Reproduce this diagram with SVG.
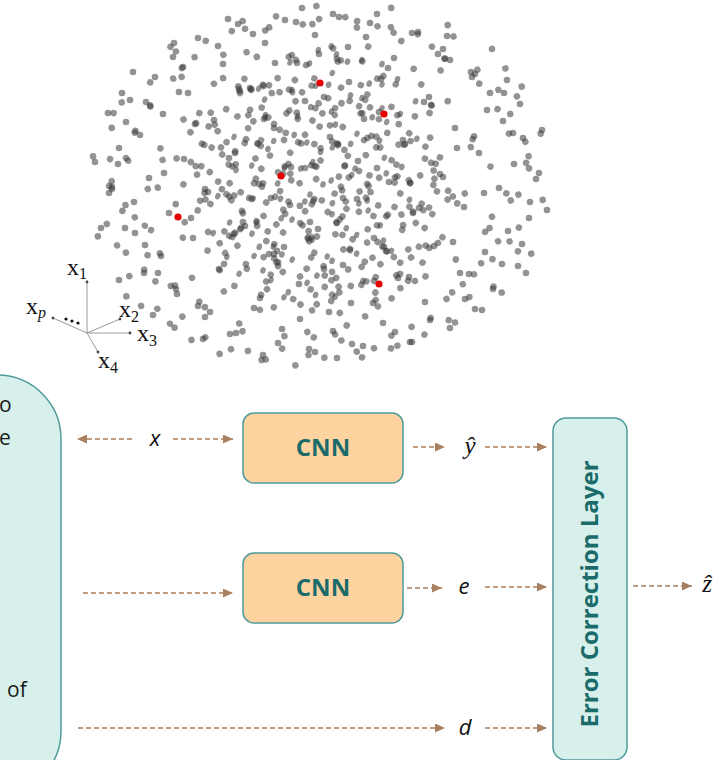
<svg xmlns="http://www.w3.org/2000/svg" xmlns:xlink="http://www.w3.org/1999/xlink" width="727" height="760" viewBox="0 0 727 760">
<style>
.red{fill:#e60000}
.ax{stroke:#9a9a9a;stroke-width:1;fill:none}
.axl{font-family:"Liberation Serif","Times New Roman",serif;font-size:24px;fill:#111}
.sub{font-size:16px}
.panel{fill:#d8f0eb;stroke:#4f9a9a;stroke-width:1.5}
.cnn{fill:#fdd4a0;stroke:#4f9a9a;stroke-width:1.5}
.lbl{font-family:"Open Sans","Liberation Sans",sans-serif;font-weight:bold;fill:#1b6b6b;text-anchor:middle}
.pt{font-family:"Open Sans","Liberation Sans",sans-serif;font-size:21px;fill:#1a1a1a}
.var{font-family:"Open Sans","Liberation Sans",sans-serif;font-style:italic;font-size:22px;fill:#111;text-anchor:middle}
.hat{font-family:"Liberation Serif","DejaVu Serif",serif;font-style:italic;font-size:25px;fill:#111;text-anchor:middle}
.arr{stroke:#a9805f;stroke-width:1.6;stroke-dasharray:5 3;fill:none;marker-end:url(#ah)}
</style>
<defs>
<marker id="ah" markerUnits="userSpaceOnUse" markerWidth="10" markerHeight="9" refX="10" refY="4.5" orient="auto"><path d="M0,0 L10,4.5 L0,9 z" fill="#a9805f"/></marker>
<marker id="axh" markerUnits="userSpaceOnUse" markerWidth="4" markerHeight="4" refX="2" refY="2" orient="auto"><circle cx="2" cy="2" r="1.4" fill="#444"/></marker>
<g id="setA" fill="#3a3a3a" fill-opacity="0.55">
<circle cx="-203" cy="-37" r="3.3"/><circle cx="-187" cy="48" r="3.3"/><circle cx="-176" cy="-83" r="3.3"/><circle cx="-161" cy="71" r="3.3"/><circle cx="-158" cy="-12" r="3.3"/><circle cx="-146" cy="104" r="3.3"/><circle cx="-139" cy="-118" r="3.3"/><circle cx="-131" cy="33" r="3.3"/><circle cx="-127" cy="-61" r="3.3"/><circle cx="-112" cy="127" r="3.3"/>
<circle cx="-117" cy="4" r="3.3"/><circle cx="-104" cy="-139" r="3.3"/><circle cx="-98" cy="79" r="3.3"/><circle cx="-93" cy="-27" r="3.3"/><circle cx="-86" cy="148" r="3.3"/><circle cx="-83" cy="-96" r="3.3"/><circle cx="-77" cy="41" r="3.3"/><circle cx="-69" cy="-151" r="3.3"/><circle cx="-62" cy="113" r="3.3"/><circle cx="-58" cy="-66" r="3.3"/>
<circle cx="-51" cy="13" r="3.3"/><circle cx="-44" cy="158" r="3.3"/><circle cx="-47" cy="-122" r="3.3"/><circle cx="-38" cy="62" r="3.3"/><circle cx="-31" cy="-18" r="3.3"/><circle cx="-26" cy="-163" r="3.3"/><circle cx="-22" cy="134" r="3.3"/><circle cx="-17" cy="-84" r="3.3"/><circle cx="-12" cy="37" r="3.3"/><circle cx="-7" cy="167" r="3.3"/>
<circle cx="-3" cy="-131" r="3.3"/><circle cx="2" cy="84" r="3.3"/><circle cx="8" cy="-48" r="3.3"/><circle cx="11" cy="146" r="3.3"/><circle cx="17" cy="-168" r="3.3"/><circle cx="21" cy="13" r="3.3"/><circle cx="27" cy="-103" r="3.3"/><circle cx="29" cy="118" r="3.3"/><circle cx="36" cy="-24" r="3.3"/><circle cx="41" cy="161" r="3.3"/>
<circle cx="44" cy="-148" r="3.3"/><circle cx="52" cy="53" r="3.3"/><circle cx="57" cy="-73" r="3.3"/><circle cx="61" cy="138" r="3.3"/><circle cx="67" cy="-3" r="3.3"/><circle cx="72" cy="-127" r="3.3"/><circle cx="76" cy="93" r="3.3"/><circle cx="83" cy="-41" r="3.3"/><circle cx="88" cy="157" r="3.3"/><circle cx="91" cy="28" r="3.3"/>
<circle cx="96" cy="-153" r="3.3"/><circle cx="103" cy="117" r="3.3"/><circle cx="107" cy="-88" r="3.3"/><circle cx="112" cy="61" r="3.3"/><circle cx="118" cy="-11" r="3.3"/><circle cx="121" cy="-136" r="3.3"/><circle cx="128" cy="143" r="3.3"/><circle cx="133" cy="-57" r="3.3"/><circle cx="138" cy="88" r="3.3"/><circle cx="142" cy="22" r="3.3"/>
<circle cx="149" cy="-113" r="3.3"/><circle cx="153" cy="124" r="3.3"/><circle cx="157" cy="-32" r="3.3"/><circle cx="163" cy="67" r="3.3"/><circle cx="168" cy="-92" r="3.3"/><circle cx="171" cy="104" r="3.3"/><circle cx="177" cy="3" r="3.3"/><circle cx="181" cy="-64" r="3.3"/><circle cx="186" cy="46" r="3.3"/><circle cx="192" cy="-21" r="3.3"/>
<circle cx="196" cy="81" r="3.3"/><circle cx="201" cy="-47" r="3.3"/><circle cx="208" cy="17" r="3.3"/><circle cx="214" cy="-6" r="3.3"/><circle cx="-213" cy="8" r="3.3"/><circle cx="-196" cy="-63" r="3.3"/><circle cx="-178" cy="88" r="3.3"/><circle cx="-143" cy="-93" r="3.3"/><circle cx="-124" cy="121" r="3.3"/>
</g>
<g id="setB" fill="#3a3a3a" fill-opacity="0.55">
<circle cx="-125" cy="-20" r="3.3"/><circle cx="-118" cy="35" r="3.3"/><circle cx="-110" cy="-55" r="3.3"/><circle cx="-102" cy="8" r="3.3"/><circle cx="-96" cy="62" r="3.3"/><circle cx="-90" cy="-38" r="3.3"/><circle cx="-84" cy="21" r="3.3"/><circle cx="-77" cy="-78" r="3.3"/><circle cx="-71" cy="47" r="3.3"/><circle cx="-66" cy="-9" r="3.3"/>
<circle cx="-60" cy="86" r="3.3"/><circle cx="-55" cy="-49" r="3.3"/><circle cx="-49" cy="28" r="3.3"/><circle cx="-43" cy="-92" r="3.3"/><circle cx="-38" cy="66" r="3.3"/><circle cx="-33" cy="-27" r="3.3"/><circle cx="-28" cy="5" r="3.3"/><circle cx="-22" cy="-63" r="3.3"/><circle cx="-17" cy="44" r="3.3"/><circle cx="-12" cy="-11" r="3.3"/>
<circle cx="-6" cy="92" r="3.3"/><circle cx="-2" cy="-41" r="3.3"/><circle cx="4" cy="19" r="3.3"/><circle cx="9" cy="-84" r="3.3"/><circle cx="14" cy="58" r="3.3"/><circle cx="19" cy="-23" r="3.3"/><circle cx="24" cy="74" r="3.3"/><circle cx="29" cy="-58" r="3.3"/><circle cx="34" cy="9" r="3.3"/><circle cx="39" cy="-96" r="3.3"/>
<circle cx="44" cy="41" r="3.3"/><circle cx="49" cy="-14" r="3.3"/><circle cx="55" cy="83" r="3.3"/><circle cx="60" cy="-47" r="3.3"/><circle cx="65" cy="26" r="3.3"/><circle cx="70" cy="-72" r="3.3"/><circle cx="75" cy="57" r="3.3"/><circle cx="81" cy="-5" r="3.3"/><circle cx="86" cy="-33" r="3.3"/><circle cx="91" cy="71" r="3.3"/>
<circle cx="97" cy="13" r="3.3"/><circle cx="102" cy="-61" r="3.3"/><circle cx="108" cy="44" r="3.3"/><circle cx="113" cy="-18" r="3.3"/><circle cx="119" cy="22" r="3.3"/><circle cx="124" cy="-41" r="3.3"/><circle cx="-121" cy="12" r="3.3"/><circle cx="-88" cy="-66" r="3.3"/><circle cx="-52" cy="74" r="3.3"/><circle cx="12" cy="-98" r="3.3"/>
</g>
<g id="setC" fill="#3a3a3a" fill-opacity="0.55">
<circle cx="-226" cy="-22" r="3.3"/><circle cx="-220" cy="44" r="3.3"/><circle cx="-213" cy="-71" r="3.3"/><circle cx="-202" cy="96" r="3.3"/><circle cx="-188" cy="-112" r="3.3"/><circle cx="-168" cy="131" r="3.3"/><circle cx="-147" cy="-141" r="3.3"/><circle cx="-118" cy="155" r="3.3"/><circle cx="-93" cy="-165" r="3.3"/><circle cx="-58" cy="171" r="3.3"/><circle cx="-19" cy="-176" r="3.3"/>
<circle cx="16" cy="174" r="3.3"/><circle cx="56" cy="-170" r="3.3"/><circle cx="91" cy="158" r="3.3"/><circle cx="126" cy="-148" r="3.3"/><circle cx="161" cy="126" r="3.3"/><circle cx="186" cy="-104" r="3.3"/><circle cx="205" cy="89" r="3.3"/><circle cx="221" cy="-54" r="3.3"/><circle cx="226" cy="26" r="3.3"/><circle cx="199" cy="-80" r="3.3"/><circle cx="-199" cy="-91" r="3.3"/>
</g>
</defs>
<rect x="0" y="0" width="727" height="760" fill="#ffffff"/>

<g id="scatter">
<use xlink:href="#setA" href="#setA" transform="translate(322,185)"/>
<use xlink:href="#setA" href="#setA" transform="translate(318,189) scale(-1,1) rotate(11)"/>
<use xlink:href="#setA" href="#setA" transform="translate(326,181) rotate(180)"/>
<use xlink:href="#setA" href="#setA" transform="translate(315,183) scale(1,-1) rotate(-17)"/>
<use xlink:href="#setA" href="#setA" transform="translate(324,187) rotate(157)"/>
<use xlink:href="#setB" href="#setB" transform="translate(318,180) rotate(23)"/>
<use xlink:href="#setB" href="#setB" transform="translate(325,190) scale(-1,1) rotate(-31)"/>
<use xlink:href="#setB" href="#setB" transform="translate(314,186) rotate(199)"/>
<use xlink:href="#setB" href="#setB" transform="translate(330,178) scale(1,-1) rotate(64)"/>
<use xlink:href="#setB" href="#setB" transform="translate(300,170) rotate(112) scale(1,0.8)"/>
<use xlink:href="#setB" href="#setB" transform="translate(305,195) scale(-1,-1) rotate(47)"/>
<use xlink:href="#setB" href="#setB" transform="translate(335,175) rotate(-76) scale(1,0.85)"/>
<use xlink:href="#setC" href="#setC" transform="translate(321,184)"/>
<use xlink:href="#setC" href="#setC" transform="translate(319,183) scale(-1,1) rotate(7)"/>
</g>
<g id="red-points">
<circle class="red" cx="320" cy="83" r="3.6"/>
<circle class="red" cx="384" cy="114" r="3.6"/>
<circle class="red" cx="281" cy="176" r="3.6"/>
<circle class="red" cx="178" cy="217" r="3.6"/>
<circle class="red" cx="379" cy="284" r="3.6"/>
</g>

<g id="axes">
<path class="ax" d="M87,333 L87,282" marker-end="url(#axh)"/>
<path class="ax" d="M87,333 L120,319" marker-end="url(#axh)"/>
<path class="ax" d="M87,333 L130,333" marker-end="url(#axh)"/>
<path class="ax" d="M87,333 L98,352" marker-end="url(#axh)"/>
<path class="ax" d="M87,333 L53,318" marker-end="url(#axh)"/>
<circle cx="66" cy="319" r="1.6" fill="#111"/><circle cx="72" cy="321" r="1.6" fill="#111"/><circle cx="78" cy="323" r="1.6" fill="#111"/>
<text class="axl" x="67" y="275">x<tspan class="sub" dy="4">1</tspan></text>
<text class="axl" x="119" y="317">x<tspan class="sub" dy="5">2</tspan></text>
<text class="axl" x="137" y="341">x<tspan class="sub" dy="5">3</tspan></text>
<text class="axl" x="98" y="368">x<tspan class="sub" dy="5">4</tspan></text>
<text class="axl" x="26" y="314">x<tspan class="sub" dy="4" font-style="italic">p</tspan></text>
</g>

<g id="input-panel">
<rect class="panel" x="-120" y="375" width="181" height="420" rx="64" ry="64"/>
<text class="pt" x="-1" y="412">o</text>
<text class="pt" x="-1" y="445">e</text>
<text class="pt" x="7" y="697">of</text>
</g>

<g id="cnn1">
<rect class="cnn" x="243" y="413" width="160" height="70" rx="11" ry="11"/>
<text class="lbl" x="323" y="456" font-size="24">CNN</text>
</g>
<g id="cnn2">
<rect class="cnn" x="243" y="553" width="160" height="70" rx="11" ry="11"/>
<text class="lbl" x="323" y="596" font-size="24">CNN</text>
</g>
<g id="error-correction-layer">
<rect class="panel" x="553" y="418" width="74" height="342" rx="13" ry="13"/>
<text class="lbl" font-size="24" transform="translate(598,594) rotate(-90)">Error Correction Layer</text>
</g>

<g id="connectors">
<path class="arr" d="M132,439 L77,439"/>
<path class="arr" d="M173,439 L233,439"/>
<path class="arr" d="M413,447 L445,447"/>
<path class="arr" d="M485,447 L547,447"/>
<path class="arr" d="M83,593 L233,593"/>
<path class="arr" d="M407,588 L442,588"/>
<path class="arr" d="M485,587 L547,587"/>
<path class="arr" d="M633,586 L692,586"/>
<path class="arr" d="M78,728 L445,728"/>
<path class="arr" d="M485,728 L547,728"/>
</g>

<g id="labels">
<text class="var" x="155" y="446">x</text>
<text class="hat" x="470" y="454">ŷ</text>
<text class="var" x="464" y="594">e</text>
<text class="hat" x="707" y="592">ẑ</text>
<text class="var" x="465" y="735">d</text>
</g>
</svg>
